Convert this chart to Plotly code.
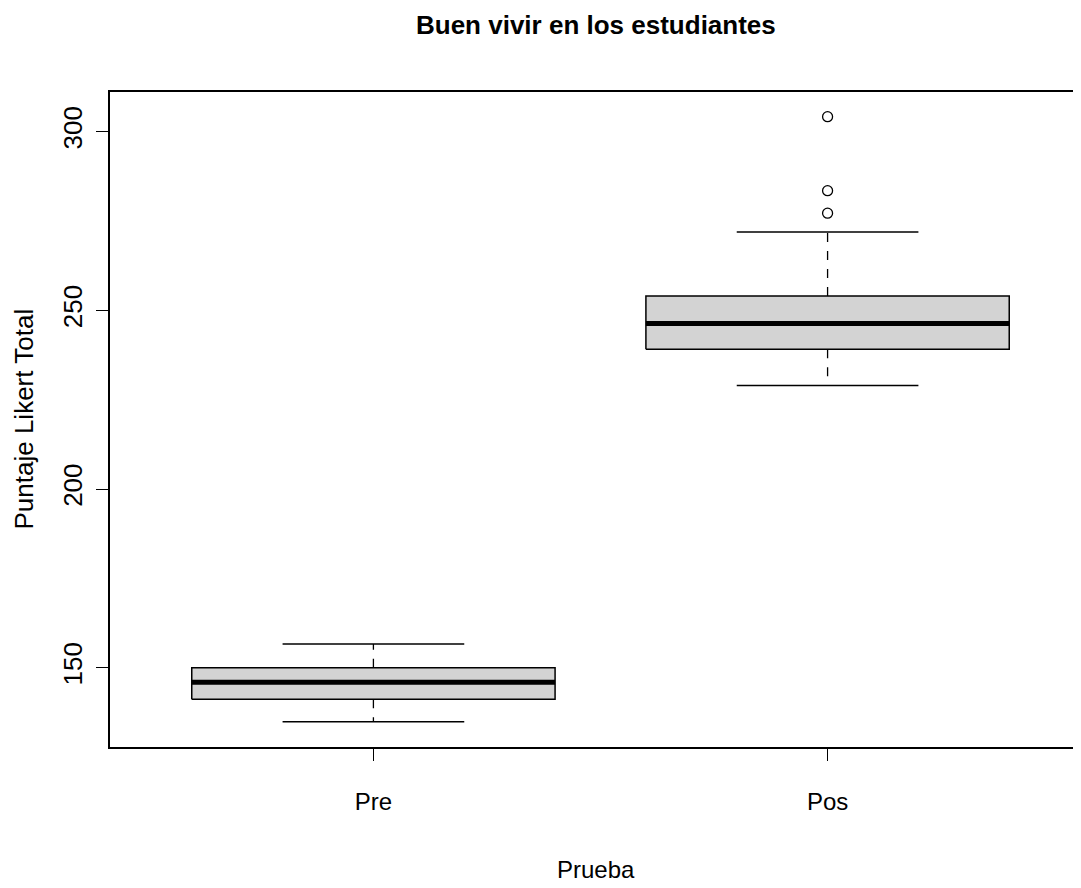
import plotly.graph_objects as go

# ---- data ----
categories = ["Pre", "Pos"]
q1 = [141.2, 239.1]
median = [145.9, 246.3]
q3 = [150.0, 254.0]
whisker_low = [134.9, 229.0]
whisker_high = [156.6, 271.9]
outliers = [[], [304.2, 283.5, 277.2]]
y_ticks = [150, 200, 250, 300]

title_text = "Buen vivir en los estudiantes"
x_title = "Prueba"
y_title = "Puntaje Likert Total"

# ---- style ----
BOX_HALF = 0.4
CAP_HALF = 0.2
LINE = "#000000"
FILL = "#D3D3D3"
FONT = "Liberation Sans, Arial, sans-serif"

fig = go.Figure()
for i, cat in enumerate(categories):
    x0 = i + 1
    # box
    fig.add_trace(go.Scatter(
        x=[x0 - BOX_HALF, x0 + BOX_HALF, x0 + BOX_HALF, x0 - BOX_HALF, x0 - BOX_HALF],
        y=[q1[i], q1[i], q3[i], q3[i], q1[i]],
        mode="lines", fill="toself", fillcolor=FILL,
        line=dict(color=LINE, width=1.5), hoverinfo="skip", showlegend=False))
    # whiskers (dashed)
    fig.add_trace(go.Scatter(
        x=[x0, x0, None, x0, x0],
        y=[q3[i], whisker_high[i], None, q1[i], whisker_low[i]],
        mode="lines", line=dict(color=LINE, width=1.3, dash="dash"),
        hoverinfo="skip", showlegend=False))
    # caps
    fig.add_trace(go.Scatter(
        x=[x0 - CAP_HALF, x0 + CAP_HALF, None, x0 - CAP_HALF, x0 + CAP_HALF],
        y=[whisker_high[i], whisker_high[i], None, whisker_low[i], whisker_low[i]],
        mode="lines", line=dict(color=LINE, width=1.5),
        hoverinfo="skip", showlegend=False))
    # median
    fig.add_trace(go.Scatter(
        x=[x0 - BOX_HALF, x0 + BOX_HALF], y=[median[i], median[i]],
        mode="lines", line=dict(color=LINE, width=5),
        hoverinfo="skip", showlegend=False))
    # outliers
    if outliers[i]:
        fig.add_trace(go.Scatter(
            x=[x0] * len(outliers[i]), y=outliers[i], mode="markers",
            marker=dict(symbol="circle-open", size=10, color=LINE, line=dict(width=1.3)),
            hoverinfo="skip", showlegend=False))

fig.update_layout(
    width=1073, height=880,
    margin=dict(l=102, r=0, t=84, b=141),
    paper_bgcolor="white", plot_bgcolor="white",
    showlegend=False,
    xaxis=dict(
        range=[0.42, 2.558], tickmode="array",
        tickvals=[i + 1 for i in range(len(categories))], ticktext=categories,
        showgrid=False, zeroline=False,
        showline=True, linecolor=LINE, linewidth=1.5, mirror=True,
        ticks="outside", ticklen=12, tickwidth=1.3, tickcolor=LINE,
        tickfont=dict(family=FONT, size=24, color="#000000"),
        ticklabelstandoff=20,
    ),
    yaxis=dict(
        range=[127.81, 311.11], tickmode="array", tickvals=y_ticks,
        ticktext=[str(v) for v in y_ticks],
        showgrid=False, zeroline=False,
        showline=True, linecolor=LINE, linewidth=1.5, mirror=False,
        ticks="outside", ticklen=12, tickwidth=1.3, tickcolor=LINE,
        tickangle=-90,
        tickfont=dict(family=FONT, size=26, color="#000000"),
        ticklabelstandoff=4,
    ),
    annotations=[
        dict(text="<b>" + title_text + "</b>", xref="paper", yref="paper",
             x=0.5, y=1 + (92 - 25) / 655, xanchor="center", yanchor="middle",
             showarrow=False, font=dict(family=FONT, size=26, color="#000000")),
        dict(text=x_title, xref="paper", yref="paper",
             x=0.5, y=-(869 - 747) / 655, xanchor="center", yanchor="middle",
             showarrow=False, font=dict(family=FONT, size=24, color="#000000")),
        dict(text=y_title, xref="paper", yref="paper",
             x=(23 - 110) / 971, y=0.5, xanchor="center", yanchor="middle",
             textangle=-90, showarrow=False,
             font=dict(family=FONT, size=26, color="#000000")),
    ],
)

fig.write_html("out.html")
